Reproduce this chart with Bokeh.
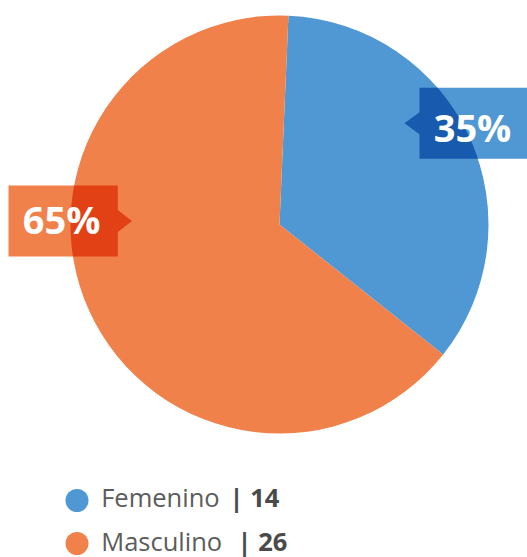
import math
import numpy as np
from bokeh.plotting import figure
from bokeh.models import Range1d
from bokeh.core.properties import value
from bokeh.embed import file_html
from bokeh.resources import INLINE

# ---------------- data ----------------
categories = ["Femenino", "Masculino"]
counts = [14, 26]
colors = ["#4f98d3", "#f0814a"]

# ---------------- layout ----------------
W, H = 527, 557


def X(sx):
    return sx


def Y(sy):
    return H - sy


CX, CY, R = X(279), Y(224), 209
START_OFFSET = math.radians(2.45)   # clockwise from 12 o'clock

# label boxes (screen px): tip, box (left, right, top, bottom), text (center x, baseline)
label_layout = [
    dict(tip=(404, 122.8), box=(419, 530, 87.3, 158.3), text=(472, 140.5)),
    dict(tip=(131.5, 220.5), box=(8, 117.3, 185, 256), text=(61.2, 232.3)),
]
ARROW_HALF = 11
BASELINE_FIX = 0.37   # em fraction the svg text sits below the requested baseline

PCT_SIZE = 38
LEG_SIZE = 25.5
legend_rows_y = [500, 543]
legend_baselines = [506, 550]
legend_bold_x = [229, 237]

# ---------------- helpers ----------------


def hex_to_rgb(h):
    h = h.lstrip("#")
    return tuple(int(h[i:i + 2], 16) for i in (0, 2, 4))


def multiply(h):
    r, g, b = hex_to_rgb(h)
    return "#%02x%02x%02x" % (r * r // 255, g * g // 255, b * b // 255)


def clip_poly_disk(xs, ys, cx, cy, r):
    P = list(zip(xs, ys))
    n = len(P)
    area = sum(P[i][0] * P[(i + 1) % n][1] - P[(i + 1) % n][0] * P[i][1] for i in range(n))
    if area < 0:
        P = P[::-1]

    def inside(p):
        return (p[0] - cx) ** 2 + (p[1] - cy) ** 2 <= r * r

    k = next(i for i, p in enumerate(P) if inside(p))
    P = P[k:] + P[:k]
    out = []
    state_in = True
    exit_ang = None
    for i in range(n):
        a = P[i]
        b = P[(i + 1) % n]
        if inside(a):
            out.append(a)
        dx, dy = b[0] - a[0], b[1] - a[1]
        fx, fy = a[0] - cx, a[1] - cy
        A = dx * dx + dy * dy
        B = 2 * (fx * dx + fy * dy)
        C = fx * fx + fy * fy - r * r
        disc = B * B - 4 * A * C
        ts = []
        if disc > 0 and A > 0:
            sq = math.sqrt(disc)
            for t in sorted([(-B - sq) / (2 * A), (-B + sq) / (2 * A)]):
                if 0 < t < 1:
                    ts.append(t)
        for t in ts:
            p = (a[0] + t * dx, a[1] + t * dy)
            ang = math.atan2(p[1] - cy, p[0] - cx)
            if state_in:
                out.append(p)
                exit_ang = ang
                state_in = False
            else:
                a2 = ang
                while a2 < exit_ang:
                    a2 += 2 * math.pi
                for th in np.linspace(exit_ang, a2, 120)[1:-1]:
                    out.append((cx + r * math.cos(th), cy + r * math.sin(th)))
                out.append(p)
                state_in = True
    return [q[0] for q in out], [q[1] for q in out]


def box_polygon(lay):
    tx, ty = lay["tip"]
    l, rr, t, b = lay["box"]
    if tx < l:   # arrow on left
        pts = [(l, t), (rr, t), (rr, b), (l, b), (l, ty + ARROW_HALF), (tx, ty), (l, ty - ARROW_HALF)]
    else:        # arrow on right
        pts = [(l, t), (rr, t), (rr, ty - ARROW_HALF), (tx, ty), (rr, ty + ARROW_HALF), (rr, b), (l, b)]
    return [X(q[0]) for q in pts], [Y(q[1]) for q in pts]


# ---------------- figure ----------------
p = figure(width=W, height=H, output_backend="svg", toolbar_location=None,
           x_range=Range1d(0, W), y_range=Range1d(0, H), min_border=0)
p.axis.visible = False
p.grid.visible = False
p.outline_line_color = None
p.background_fill_color = "white"
p.border_fill_color = "white"

total = sum(counts)
fr = np.array(counts, dtype=float) / total
cum = np.concatenate([[0], np.cumsum(fr)])
base = math.pi / 2 - START_OFFSET
starts = [base - cum[i + 1] * 2 * math.pi for i in range(len(counts))]
ends = [base - cum[i] * 2 * math.pi for i in range(len(counts))]

p.wedge(x=[CX] * len(counts), y=[CY] * len(counts), radius=R,
        start_angle=starts, end_angle=ends, direction="anticlock",
        fill_color=colors, line_color=None)

# percentage label boxes
for i, lay in enumerate(label_layout):
    bx, by = box_polygon(lay)
    p.patch(bx, by, fill_color=colors[i], line_color=None)
    ox, oy = clip_poly_disk(bx, by, CX, CY, R)
    p.patch(ox, oy, fill_color=multiply(colors[i]), line_color=None)
    pct = "%d%%" % round(fr[i] * 100)
    p.text(x=[X(lay["text"][0])], y=[Y(lay["text"][1] - BASELINE_FIX * PCT_SIZE)], text=[pct],
           text_font=value("Open Sans"), text_font_style="bold",
           text_font_size="%dpx" % PCT_SIZE, text_color="white",
           text_align="center", text_baseline="alphabetic")

# legend
for i, cat in enumerate(categories):
    by_ = Y(legend_baselines[i] - BASELINE_FIX * LEG_SIZE)
    p.scatter(x=[X(76.5)], y=[Y(legend_rows_y[i])], size=23, marker="circle",
              fill_color=colors[i], line_color=None)
    p.text(x=[X(100.7)], y=[by_], text=[cat],
           text_font=value("Open Sans"), text_font_size="%spx" % LEG_SIZE,
           text_color="#5c5c5c", text_align="left", text_baseline="alphabetic")
    p.text(x=[X(legend_bold_x[i])], y=[by_], text=["| %d" % counts[i]],
           text_font=value("Open Sans"), text_font_style="bold", text_font_size="%spx" % LEG_SIZE,
           text_color="#4a4a4a", text_align="left", text_baseline="alphabetic")

open("out.html", "w").write(file_html(p, INLINE))
